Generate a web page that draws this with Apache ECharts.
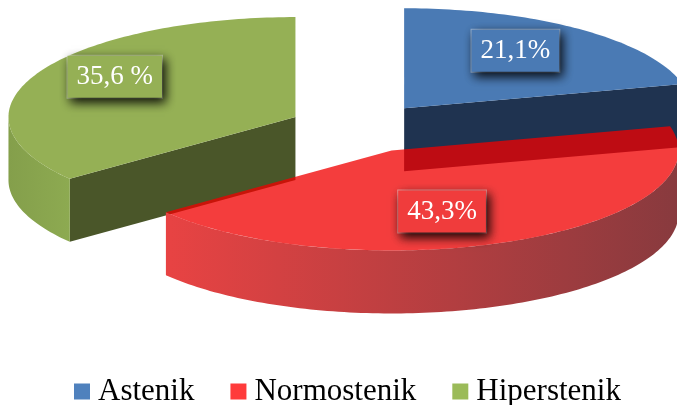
<!DOCTYPE html>
<html lang="en">
<head>
    <meta charset="UTF-8">
    <title>pie 3d</title>
    <style>
        html,
        body {
            margin: 0;
            padding: 0;
            width: 100%;
            height: 100%;
            background: #fff;
        }

        #canvas {
            width: 677px;
            height: 405px;
        }
    </style>
</head>
<body>
<div id="canvas"></div>
</body>
<script src="https://cdn.jsdelivr.net/npm/echarts@6/dist/echarts.min.js"></script>
<script>

    const categories = ['Astenik', 'Normostenik', 'Hiperstenik']
    const values = [21.1, 43.3, 35.6]
    const labels = ['21,1%', '43,3%', '35,6 %']

    // styles per slice
    const legendColors = ['#4F81BD', '#FF3B3B', '#9BBB59']
    const topColors = ['#4A7AB4', 'rgba(240,0,0,0.76)', '#95B055']
    const boxColors = ['#4A7AB4', '#F03C3C', '#95B055']
    const wallColors = [['#4A7AB4', '#4A7AB4'], ['#E84343', '#883A3E'], ['#849F4B', '#8DAA51']]
    const sideColors = ['#1F3350', '#9E1F22', '#4A5629']
    const labelK = [[0.63, 0.73], [0.40, 0.68], [0.70, 0.92]]

    // layout of the tilted pie
    const cx0 = 360
    const cy0 = 128
    const RX = 287
    const RY = 100
    const H = 63
    const explode = 0.25
    const font = 'Liberation Serif'

    const total = values.reduce((s, v) => s + v, 0)

    function pt(cx, cy, t, dy) {
        return [cx + RX * Math.sin(t), cy - RY * Math.cos(t) + (dy || 0)]
    }

    function arc(cx, cy, t1, t2, dy) {
        const pts = []
        const n = Math.max(2, Math.ceil(Math.abs(t2 - t1) / 0.02))
        for (let i = 0; i <= n; i++) {
            pts.push(pt(cx, cy, t1 + (t2 - t1) * i / n, dy))
        }
        return pts
    }

    function sliceRender(idx) {
        return function (params, api) {
            let before = 0
            for (let i = 0; i < idx; i++) before += values[i]
            const a = 2 * Math.PI * before / total
            const b = a + 2 * Math.PI * api.value(0) / total
            const m = (a + b) / 2
            const cx = cx0 + explode * RX * Math.sin(m)
            const cy = cy0 - explode * RY * Math.cos(m)
            const children = []

            // radial walls that face the viewer
            const radial = []
            if (Math.sin(b) > 1e-6) radial.push(b)
            if (Math.sin(a) < -1e-6) radial.push(a)
            radial.forEach(t => {
                const r = pt(cx, cy, t)
                children.push({
                    type: 'polygon',
                    z2: 1,
                    shape: { points: [[cx, cy], r, [r[0], r[1] + H], [cx, cy + H]] },
                    style: { fill: sideColors[idx] }
                })
            })

            // outer wall, front half only
            const t1 = Math.max(a, Math.PI / 2)
            const t2 = Math.min(b, Math.PI * 3 / 2)
            if (t1 < t2) {
                const pts = arc(cx, cy, t1, t2, 0).concat(arc(cx, cy, t2, t1, H))
                children.push({
                    type: 'polygon',
                    z2: 2,
                    shape: { points: pts },
                    style: {
                        fill: new echarts.graphic.LinearGradient(0, 0, 1, 0, [
                            { offset: 0, color: wallColors[idx][0] },
                            { offset: 1, color: wallColors[idx][1] }
                        ])
                    }
                })
            }

            // top face
            children.push({
                type: 'polygon',
                z2: 3,
                shape: { points: [[cx, cy]].concat(arc(cx, cy, a, b, 0)) },
                style: { fill: topColors[idx] }
            })

            // data label
            children.push({
                type: 'text',
                z2: 10,
                x: cx + labelK[idx][0] * RX * Math.sin(m),
                y: cy - labelK[idx][1] * RY * Math.cos(m),
                style: {
                    text: labels[idx],
                    fill: '#fff',
                    font: '27px "' + font + '"',
                    align: 'center',
                    verticalAlign: 'middle',
                    backgroundColor: boxColors[idx],
                    borderColor: 'rgba(255,255,255,0.45)',
                    borderWidth: 1,
                    padding: [8, 9, 7, 9],
                    shadowBlur: 10,
                    shadowColor: 'rgba(0,0,0,0.95)',
                    shadowOffsetX: 3,
                    shadowOffsetY: 4
                }
            })

            return { type: 'group', children }
        }
    }

    const chart = echarts.init(document.getElementById('canvas'))

    const series = categories.map((name, i) => ({
        name,
        type: 'custom',
        coordinateSystem: 'none',
        z: i === 1 ? 5 : 2,
        silent: true,
        itemStyle: { color: legendColors[i] },
        renderItem: sliceRender(i),
        data: [[values[i]]]
    }))

    chart.setOption({
        animation: false,
        legend: {
            data: categories,
            left: 74,
            top: 376,
            padding: 0,
            icon: 'rect',
            itemWidth: 16,
            itemHeight: 16,
            itemGap: 36,
            textStyle: {
                fontFamily: font,
                fontSize: 31,
                color: '#000',
                padding: [0, 0, 0, 3]
            }
        },
        series
    })
</script>
</html>
